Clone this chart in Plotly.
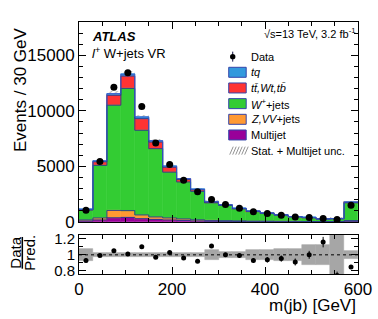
import numpy as np
import plotly.graph_objects as go

# ---- data ----
bin_edges = [0, 30, 60, 90, 120, 150, 180, 210, 240, 270, 300, 330, 360, 390, 420, 450, 480, 510, 540, 570, 600]
multijet = [80, 180, 380, 400, 300, 220, 180, 130, 90, 60, 50, 40, 30, 30, 20, 20, 15, 15, 15, 60]
zvv_jets = [100, 180, 650, 620, 330, 230, 180, 140, 100, 70, 60, 50, 40, 35, 30, 25, 20, 20, 20, 60]
w_jets = [890, 4730, 9480, 11000, 7620, 6150, 4120, 3330, 2560, 1590, 1380, 1085, 865, 697, 560, 411, 345, 219, 249, 1600]
ttbar = [40, 330, 890, 1110, 1050, 590, 440, 220, 140, 60, 40, 30, 25, 20, 15, 12, 10, 8, 8, 30]
tq = [30, 80, 150, 170, 150, 130, 100, 80, 60, 40, 30, 25, 20, 18, 15, 12, 10, 8, 8, 30]
data = [1060, 5450, 12130, 13430, 10400, 7100, 5170, 3740, 2710, 2020, 1560, 1220, 910, 750, 610, 437, 400, 313, 222, 1510]
unc = [90, 110, 230, 270, 190, 150, 100, 80, 60, 110, 60, 50, 60, 50, 45, 35, 50, 35, 150, 90]

y_ticks_main = [0, 5000, 10000, 15000]
y_ticklabels_main = ["0", "5000", "10000", "15000"]
x_ticks = [0, 200, 400, 600]
x_ticklabels = ["0", "200", "400", "600"]
ratio_ticks = [0.8, 1, 1.2]
ratio_ticklabels = ["0.8", "1", "1.2"]

# ---- derived ----
edges = np.array(bin_edges, dtype=float)
centers = 0.5 * (edges[:-1] + edges[1:])
widths = np.diff(edges)
comps = [
    ("Multijet", multijet, "#990099"),
    ("Z,VV+jets", zvv_jets, "#ff9933"),
    ("W+jets", w_jets, "#33cc33"),
    ("tt,Wt,tb", ttbar, "#ff3333"),
    ("tq", tq, "#3399dd"),
]
total = np.zeros(len(centers))
for _, v, _ in comps:
    total = total + np.array(v, dtype=float)
data_a = np.array(data, dtype=float)
unc_a = np.array(unc, dtype=float)
ratio = data_a / total
ratio_err = np.sqrt(data_a) / total
rel_unc = unc_a / total

FONT = "Liberation Sans, Arial, Helvetica, sans-serif"
W, H = 378, 319
# plot area in screen pixels: x 79..358.5, y 22..274.5
ML, MT = 79, 22
MR = W - 358.5
MB = H - 274.5
PW, PH = W - ML - MR, H - MT - MB


def px(x):
    return (x - ML) / PW


def py(y):
    return (H - MB - y) / PH


fig = go.Figure()

# hatched uncertainty (drawn first so fills cover its lower half)
fig.add_trace(go.Bar(
    x=centers, y=2 * unc_a, base=total - unc_a, width=widths,
    marker=dict(color="rgba(0,0,0,0)", line=dict(width=0),
                pattern=dict(shape="/", fgcolor="#555555", bgcolor="rgba(0,0,0,0)", size=4, solidity=0.25)),
    xaxis="x", yaxis="y", showlegend=False, hoverinfo="skip"))

base = np.zeros(len(centers))
tops = []
for name, vals, col in comps:
    v = np.array(vals, dtype=float)
    fig.add_trace(go.Bar(
        x=centers, y=v, base=base, width=widths, name=name,
        marker=dict(color=col, line=dict(color=col, width=0.6)),
        xaxis="x", yaxis="y", showlegend=False))
    base = base + v
    tops.append(base.copy())

# step outlines
for i, t in enumerate(tops):
    col = "#3355cc" if i == len(tops) - 1 else "#2b3a8c"
    fig.add_trace(go.Scatter(
        x=edges, y=np.append(t, t[-1]), mode="lines", line=dict(shape="hv", color=col, width=0.9),
        xaxis="x", yaxis="y", showlegend=False, hoverinfo="skip"))

# data
fig.add_trace(go.Scatter(
    x=centers, y=data_a, mode="markers",
    marker=dict(color="black", size=7),
    error_y=dict(type="data", array=np.sqrt(data_a), color="black", thickness=1, width=0),
    xaxis="x", yaxis="y", showlegend=False))

# ratio band
fig.add_trace(go.Bar(
    x=centers, y=2 * rel_unc, base=1 - rel_unc, width=widths,
    marker=dict(color="#a6a6a6", line=dict(color="#a6a6a6", width=0.5)),
    xaxis="x2", yaxis="y2", showlegend=False))
fig.add_trace(go.Scatter(
    x=centers, y=ratio, mode="markers",
    marker=dict(color="black", size=5),
    error_y=dict(type="data", array=ratio_err, color="black", thickness=1, width=0),
    xaxis="x2", yaxis="y2", showlegend=False, cliponaxis=True))

shapes = [dict(type="line", xref="x2 domain", yref="y2", x0=0, x1=1, y0=1, y1=1,
               line=dict(color="black", width=1, dash="dot"), layer="above")]

ann = []
def text(x, y, s, size, xanchor="left", yanchor="middle", angle=0):
    ann.append(dict(x=px(x), y=py(y), xref="paper", yref="paper", text=s, showarrow=False,
                    xanchor=xanchor, yanchor=yanchor, textangle=angle,
                    font=dict(family=FONT, size=size, color="black")))

text(90, 37, "<b><i>ATLAS</i></b>", 13)
text(90, 53, "<i>l</i><sup>+</sup> W+jets VR", 13)
text(357, 33, "\u221As=13 TeV, 3.2 fb<sup>-1</sup>", 11, xanchor="right")

# legend
leg_rows = [
    ("Data", None),
    ("<i>tq</i>", "#3399dd"),
    ("<i>tt\u0304,Wt,tb\u0304</i>", "#ff3333"),
    ("<i>W</i><sup>+</sup>+jets", "#33cc33"),
    ("<i>Z,VV</i>+jets", "#ff9933"),
    ("Multijet", "#990099"),
    ("Stat. + Multijet unc.", "hatch"),
]
y0 = 56.7
dy = 15.7
sx0, sx1 = 229, 246.5
for i, (lab, col) in enumerate(leg_rows):
    yc = y0 + i * dy
    text(249.5, yc, lab, 11)
    if col is None:
        shapes.append(dict(type="line", xref="paper", yref="paper", x0=px(233), x1=px(233),
                           y0=py(yc - 5), y1=py(yc + 5), line=dict(color="#101040", width=1)))
        shapes.append(dict(type="circle", xref="paper", yref="paper", x0=px(230.3), x1=px(235.7),
                           y0=py(yc - 2.7), y1=py(yc + 2.7), fillcolor="black", line=dict(color="black", width=0)))
    elif col == "hatch":
        for k in range(6):
            xa = sx0 + 1 + k * 3
            shapes.append(dict(type="line", xref="paper", yref="paper", x0=px(xa), x1=px(xa + 3.5),
                               y0=py(yc + 4), y1=py(yc - 4), line=dict(color="#777777", width=0.8)))
    else:
        shapes.append(dict(type="rect", xref="paper", yref="paper", x0=px(sx0), x1=px(sx1),
                           y0=py(yc - 5), y1=py(yc + 5), fillcolor=col, line=dict(color="#3344aa", width=1)))

# axis titles
text(21, 90, "Events / 30 GeV", 17, xanchor="center", angle=-90)
text(359, 306, "m(jb) [GeV]", 17, xanchor="right")
text(15, 253, "<u>Data</u>", 15, xanchor="center", angle=-90)
text(29, 253, "Pred.", 15, xanchor="center", angle=-90)

ax_common = dict(showline=True, linecolor="black", linewidth=1, mirror="allticks", ticks="inside",
                 showgrid=False, zeroline=False, tickcolor="black", automargin=False,
                 tickfont=dict(family=FONT, size=17, color="black"))

fig.update_layout(
    width=W, height=H, margin=dict(l=ML, r=MR, t=MT, b=MB, autoexpand=False),
    paper_bgcolor="white", plot_bgcolor="white",
    barmode="overlay", bargap=0, showlegend=False,
    font=dict(family=FONT, color="black"),
    xaxis=dict(domain=[0, 1], range=[0, 600], anchor="y", showticklabels=False,
               tickmode="array", tickvals=x_ticks, ticktext=x_ticklabels, ticklen=7,
               minor=dict(ticks="inside", dtick=50, tick0=0, ticklen=4, tickcolor="black"), **ax_common),
    yaxis=dict(domain=[py(222.3), 1], range=[0, 18000], anchor="x",
               tickmode="array", tickvals=y_ticks_main, ticktext=y_ticklabels_main, ticklen=7,
               minor=dict(ticks="inside", dtick=1000, tick0=0, ticklen=4, tickcolor="black"), **ax_common),
    xaxis2=dict(domain=[0, 1], range=[0, 600], anchor="y2", matches="x",
                tickmode="array", tickvals=x_ticks, ticktext=x_ticklabels, ticklen=7,
                minor=dict(ticks="inside", dtick=50, tick0=0, ticklen=4, tickcolor="black"), **ax_common),
    yaxis2=dict(domain=[0, py(235.3)], range=[0.76, 1.25], anchor="x2",
                tickmode="array", tickvals=ratio_ticks, ticktext=ratio_ticklabels, ticklen=7,
                minor=dict(ticks="inside", dtick=0.1, tick0=0, ticklen=4, tickcolor="black"), **ax_common),
    shapes=shapes, annotations=ann,
)
fig.update_layout(yaxis2_tickfont_size=15)

fig.write_html("out.html", config={"displayModeBar": False},
               post_script="document.body.style.margin='0px'; document.body.style.overflow='hidden';")
